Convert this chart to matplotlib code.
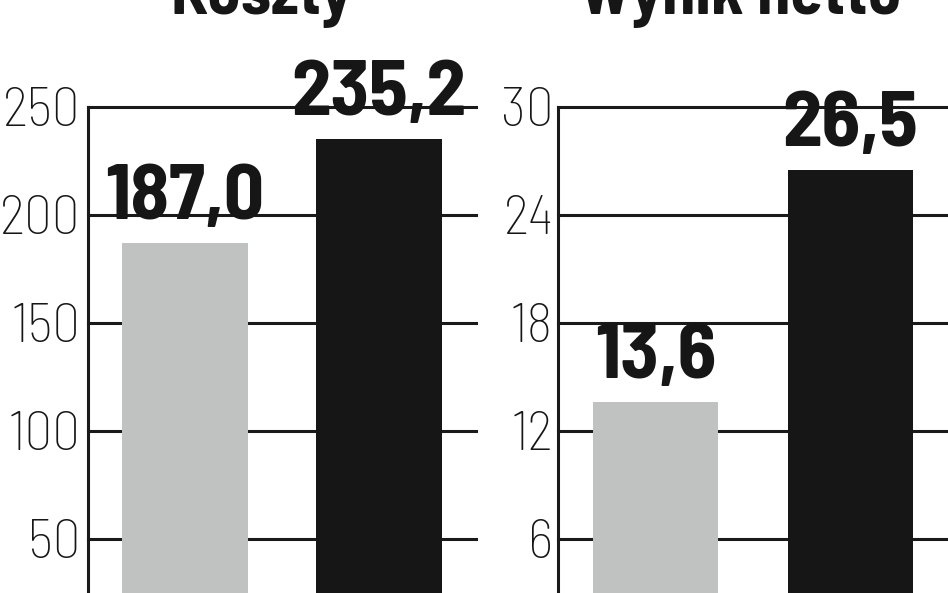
import matplotlib
matplotlib.use("Agg")
import matplotlib.pyplot as plt

plt.rcParams['font.family'] = ['Barlow Semi Condensed', 'DejaVu Sans']

titles = ["Koszty", "Wynik netto"]
categories = ["A", "B"]
koszty = [187.0, 235.2]
wynik = [13.6, 26.5]
labels_koszty = ["187,0", "235,2"]
labels_wynik = ["13,6", "26,5"]
ticks_koszty = [50, 100, 150, 200, 250]
ticks_wynik = [6, 12, 18, 24, 30]

colors = ["#c0c2c1", "#161616"]
W, H = 948, 593
fig = plt.figure(figsize=(W / 100, H / 100), dpi=100)

panels = [
    (88, 476, (25, 250), koszty, labels_koszty, ticks_koszty, titles[0], 261, 5.5),
    (558, 948, (3, 30), wynik, labels_wynik, ticks_wynik, titles[1], 740, 3.5),
]
top_px = 107
for (x0, x1, ylim, vals, labs, ticks, title, tx, pad) in panels:
    ax = fig.add_axes([x0 / W, 0, (x1 - x0) / W, 1 - top_px / H])
    ax.set_xlim(-0.5, 1.5)
    ax.set_ylim(*ylim)
    for t in ticks:
        ax.axhline(t, color="#1a1a1a", lw=2.2, zorder=1, clip_on=False)
    xs = list(range(len(vals)))
    ax.bar(xs, vals, width=0.645, color=colors, zorder=2)
    rng = ylim[1] - ylim[0]
    for x, v, l in zip(xs, vals, labs):
        ax.text(x, v + rng * 0.05, l, ha="center", va="baseline",
                fontsize=57, fontweight="bold", color="#161616", zorder=3)
    ax.set_yticks(ticks)
    ax.set_yticklabels([str(t) for t in ticks], fontsize=40, fontweight="light", color="#161616")
    ax.tick_params(axis="y", length=0, pad=pad)
    ax.set_xticks([])
    for s in ["top", "right", "bottom"]:
        ax.spines[s].set_visible(False)
    ax.spines["left"].set_linewidth(2.2)
    ax.spines["left"].set_color("#1a1a1a")
    fig.text(tx / W, 1 - 14 / H, title, ha="center", va="baseline",
             fontsize=48, fontweight="bold", color="#161616")

fig.savefig("out.png", dpi=100)
